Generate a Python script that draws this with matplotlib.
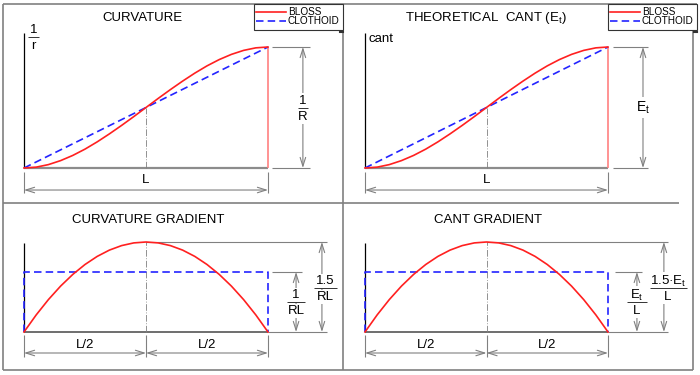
"""Bloss vs clothoid transition: curvature, cant and their gradients."""

import matplotlib
matplotlib.use('Agg')
from matplotlib import pyplot
from matplotlib.patches import Rectangle

pyplot.rc('font', family='Liberation Sans', size=9)
pyplot.rc('mathtext', default='regular')

# station along the transition, as a fraction of its length L
station = [0.0, 0.05, 0.1, 0.15, 0.2, 0.25, 0.3, 0.35, 0.4, 0.45, 0.5,
           0.55, 0.6, 0.65, 0.7, 0.75, 0.8, 0.85, 0.9, 0.95, 1.0]
# Bloss curvature / cant, fraction of the final value (1/R or Et)
bloss_ramp = [0.0, 0.007, 0.028, 0.061, 0.104, 0.156, 0.216, 0.282, 0.352,
              0.425, 0.5, 0.575, 0.648, 0.718, 0.784, 0.844, 0.896, 0.939,
              0.972, 0.993, 1.0]
# Bloss gradient, relative to the clothoid gradient (1/RL or Et/L)
bloss_gradient = [0.0, 0.285, 0.54, 0.765, 0.96, 1.125, 1.26, 1.365, 1.44,
                  1.485, 1.5, 1.485, 1.44, 1.365, 1.26, 1.125, 0.96, 0.765,
                  0.54, 0.285, 0.0]
clothoid_station = [0.0, 1.0]
clothoid_ramp = [0.0, 1.0]
clothoid_grad_station = [0.0, 0.0, 1.0, 1.0]
clothoid_gradient = [0.0, 1.0, 1.0, 0.0]
legend_labels = ['BLOSS', 'CLOTHOID']

RED = '#ff2020'
BLUE = '#2424ff'
GREY = '#808080'
W, H = 700, 375

fig = pyplot.figure(figsize=(7.0, 3.75), dpi=100)

# background axes in pixels for the drawing frame
bg = fig.add_axes([0, 0, 1, 1])
bg.set_xlim(0, W)
bg.set_ylim(H, 0)
bg.axis('off')
for xs, ys in [([3, 3], [4, 370]), ([3, 697], [4, 4]), ([3, 693], [370, 370]),
               ([693, 693], [31, 370]), ([343, 343], [4, 370]),
               ([3, 679], [203, 203])]:
    bg.plot(xs, ys, color=GREY, lw=1.2, solid_capstyle='butt')


def panel(box, origin, scale):
    """Axes over a pixel box; data unit 1 = curve length / final value."""
    left, top, right, bottom = box
    x0, y0 = origin
    sx, sy = scale
    ax = fig.add_axes([left / W, 1 - bottom / H,
                       (right - left) / W, (bottom - top) / H])
    ax.set_xlim((left - x0) / sx, (right - x0) / sx)
    ax.set_ylim((y0 - bottom) / sy, (y0 - top) / sy)
    ax.axis('off')
    return ax, sx, sy


def seg(ax, xs, ys, color=GREY, lw=0.8, **kw):
    ax.plot(xs, ys, color=color, lw=lw, clip_on=False,
            solid_capstyle='butt', **kw)


def dim(ax, p0, p1):
    ax.annotate('', xy=p1, xytext=p0, annotation_clip=False,
                arrowprops=dict(arrowstyle='<->,head_length=0.7,head_width=0.22',
                                color=GREY, lw=0.8, shrinkA=0, shrinkB=0))


def fraction(ax, sx, x, y, num, den, width, white=True):
    if white:
        ax.add_patch(Rectangle((x - (width / 2 + 2) / sx, y - 0.001), (width + 4) / sx,
                               0.002, fc='white', ec='none', zorder=3))
    kw = dict(ha='center', va='center', fontsize=9.5, textcoords='offset pixels',
              annotation_clip=False, zorder=4)
    if white:
        kw['bbox'] = dict(fc='white', ec='none', pad=1.0)
    ax.annotate(num, (x, y), xytext=(0, 7), **kw)
    ax.annotate(den, (x, y), xytext=(0, -9), **kw)
    seg(ax, [x - width / 2 / sx, x + width / 2 / sx], [y, y], color='#333333',
        lw=0.7, zorder=5)


def ramp_panel(box, origin, scale, title, title_x, ext, dim_x):
    ax, sx, sy = panel(box, origin, scale)
    seg(ax, [0, 0], [0, 1.116], color='black', lw=0.9)
    seg(ax, [0, 1], [0, 0], color='#8c8c8c', lw=1.6)
    seg(ax, [1, 1], [0, 1], color='#ff8080', lw=1.2)
    seg(ax, [0.5, 0.5], [0, 0.5], lw=0.6, linestyle=(0, (8, 2, 1, 2)))
    ax.plot(clothoid_station, clothoid_ramp, color=BLUE, lw=1.2, dashes=(4.5, 2.5))
    ax.plot(station, bloss_ramp, color=RED, lw=1.2)
    # vertical dimension
    seg(ax, ext, [1, 1])
    seg(ax, ext, [0, 0])
    dim(ax, (dim_x, 0), (dim_x, 1))
    # horizontal dimension L
    for xv in (0, 1):
        seg(ax, [xv, xv], [-0.033, -0.207])
    dim(ax, (0, -0.182), (1, -0.182))
    ax.text(0.5, -0.099, 'L', ha='center', va='center', fontsize=9.5)
    ax.text(title_x, 1.24, title, ha='center', va='center', fontsize=9.5)
    return ax, sx, sy


def gradient_panel(box, origin, scale, title, title_x, peak_ext, rect_ext,
                   dim1_x, dim2_x, lab2_x, labels, widths):
    ax, sx, sy = panel(box, origin, scale)
    seg(ax, [0, 0], [0, 1.483], color='black', lw=0.9)
    seg(ax, [0, 1], [0, 0], color='#555555', lw=1.2)
    seg(ax, [1, peak_ext], [0, 0])
    seg(ax, [0.5, 0.5], [0, 1.5], lw=0.6, linestyle=(0, (8, 2, 1, 2)))
    seg(ax, [0.5, peak_ext], [1.5, 1.5])
    seg(ax, rect_ext, [1, 1])
    ax.plot(clothoid_grad_station, clothoid_gradient, color=BLUE, lw=1.2,
            dashes=(4.5, 2.5), clip_on=False)
    ax.plot(station, bloss_gradient, color=RED, lw=1.2)
    dim(ax, (dim1_x, 0), (dim1_x, 1))
    fraction(ax, sx, dim1_x, 0.5, labels[0][0], labels[0][1], widths[0])
    dim(ax, (dim2_x, 0), (dim2_x, 1.5))
    fraction(ax, sx, lab2_x, 0.733, labels[1][0], labels[1][1], widths[1])
    # horizontal dimensions L/2
    for xv in (0, 0.5, 1):
        seg(ax, [xv, xv], [-0.05, -0.417])
    dim(ax, (0, -0.35), (0.5, -0.35))
    dim(ax, (0.5, -0.35), (1, -0.35))
    ax.text(0.25, -0.217, 'L/2', ha='center', va='center', fontsize=9.5)
    ax.text(0.75, -0.217, 'L/2', ha='center', va='center', fontsize=9.5)
    ax.text(title_x, 1.86, title, ha='center', va='center', fontsize=9.5)
    return ax


# curvature
ax, sx, sy = ramp_panel((3, 4, 343, 203), (24, 168), (244, 121), 'CURVATURE',
                        0.484, [1.016, 1.172], 1.143)
fraction(ax, sx, 1.143, 0.5, '1', 'R', 10)
fraction(ax, sx, 0.04, 1.083, '1', 'r', 11, white=False)

# theoretical cant
ax, sx, sy = ramp_panel((343, 4, 697, 203), (365, 168), (243, 121),
                        'THEORETICAL  CANT (E$_t$)', 0.498, [1.021, 1.165],
                        1.144)
ax.text(1.144, 0.5, 'E$_t$', ha='center', va='center', fontsize=10, zorder=4,
        bbox=dict(fc='white', ec='none', pad=1.5))
ax.text(0.016, 1.045, 'cant', ha='left', va='baseline', fontsize=9.5)

# gradients
gradient_panel((3, 203, 343, 370), (24, 332), (244, 60), 'CURVATURE GRADIENT',
               0.508, 1.242, [1.016, 1.139], 1.115, 1.221, 1.234,
               [('1', 'RL'), ('1.5', 'RL')], [18, 23])
gradient_panel((343, 203, 697, 370), (365, 332), (243, 60), 'CANT GRADIENT',
               0.506, 1.247, [1.029, 1.140], 1.119, 1.230, 1.247,
               [('E$_t$', 'L'), ('1.5·E$_t$', 'L')], [20, 37])

# legends, drawn on top in pixels
top = fig.add_axes([0, 0, 1, 1])
top.set_xlim(0, W)
top.set_ylim(H, 0)
top.axis('off')
for left in (254, 608):
    top.add_patch(Rectangle((left, 4), 89, 26, fc='white', ec='#333333', lw=0.8))
    top.plot([left + 2, left + 32], [12, 12], color=RED, lw=1.2)
    top.plot([left + 2, left + 32], [21, 21], color=BLUE, lw=1.2, dashes=(4.5, 2.5))
    top.text(left + 34, 12, legend_labels[0], va='center', fontsize=7.2)
    top.text(left + 34, 21, legend_labels[1], va='center', fontsize=7.2)
    top.plot([left + 86, left + 89], [31.5, 31.5], color='#333333', lw=1.5)

fig.savefig('out.png', dpi=100)
